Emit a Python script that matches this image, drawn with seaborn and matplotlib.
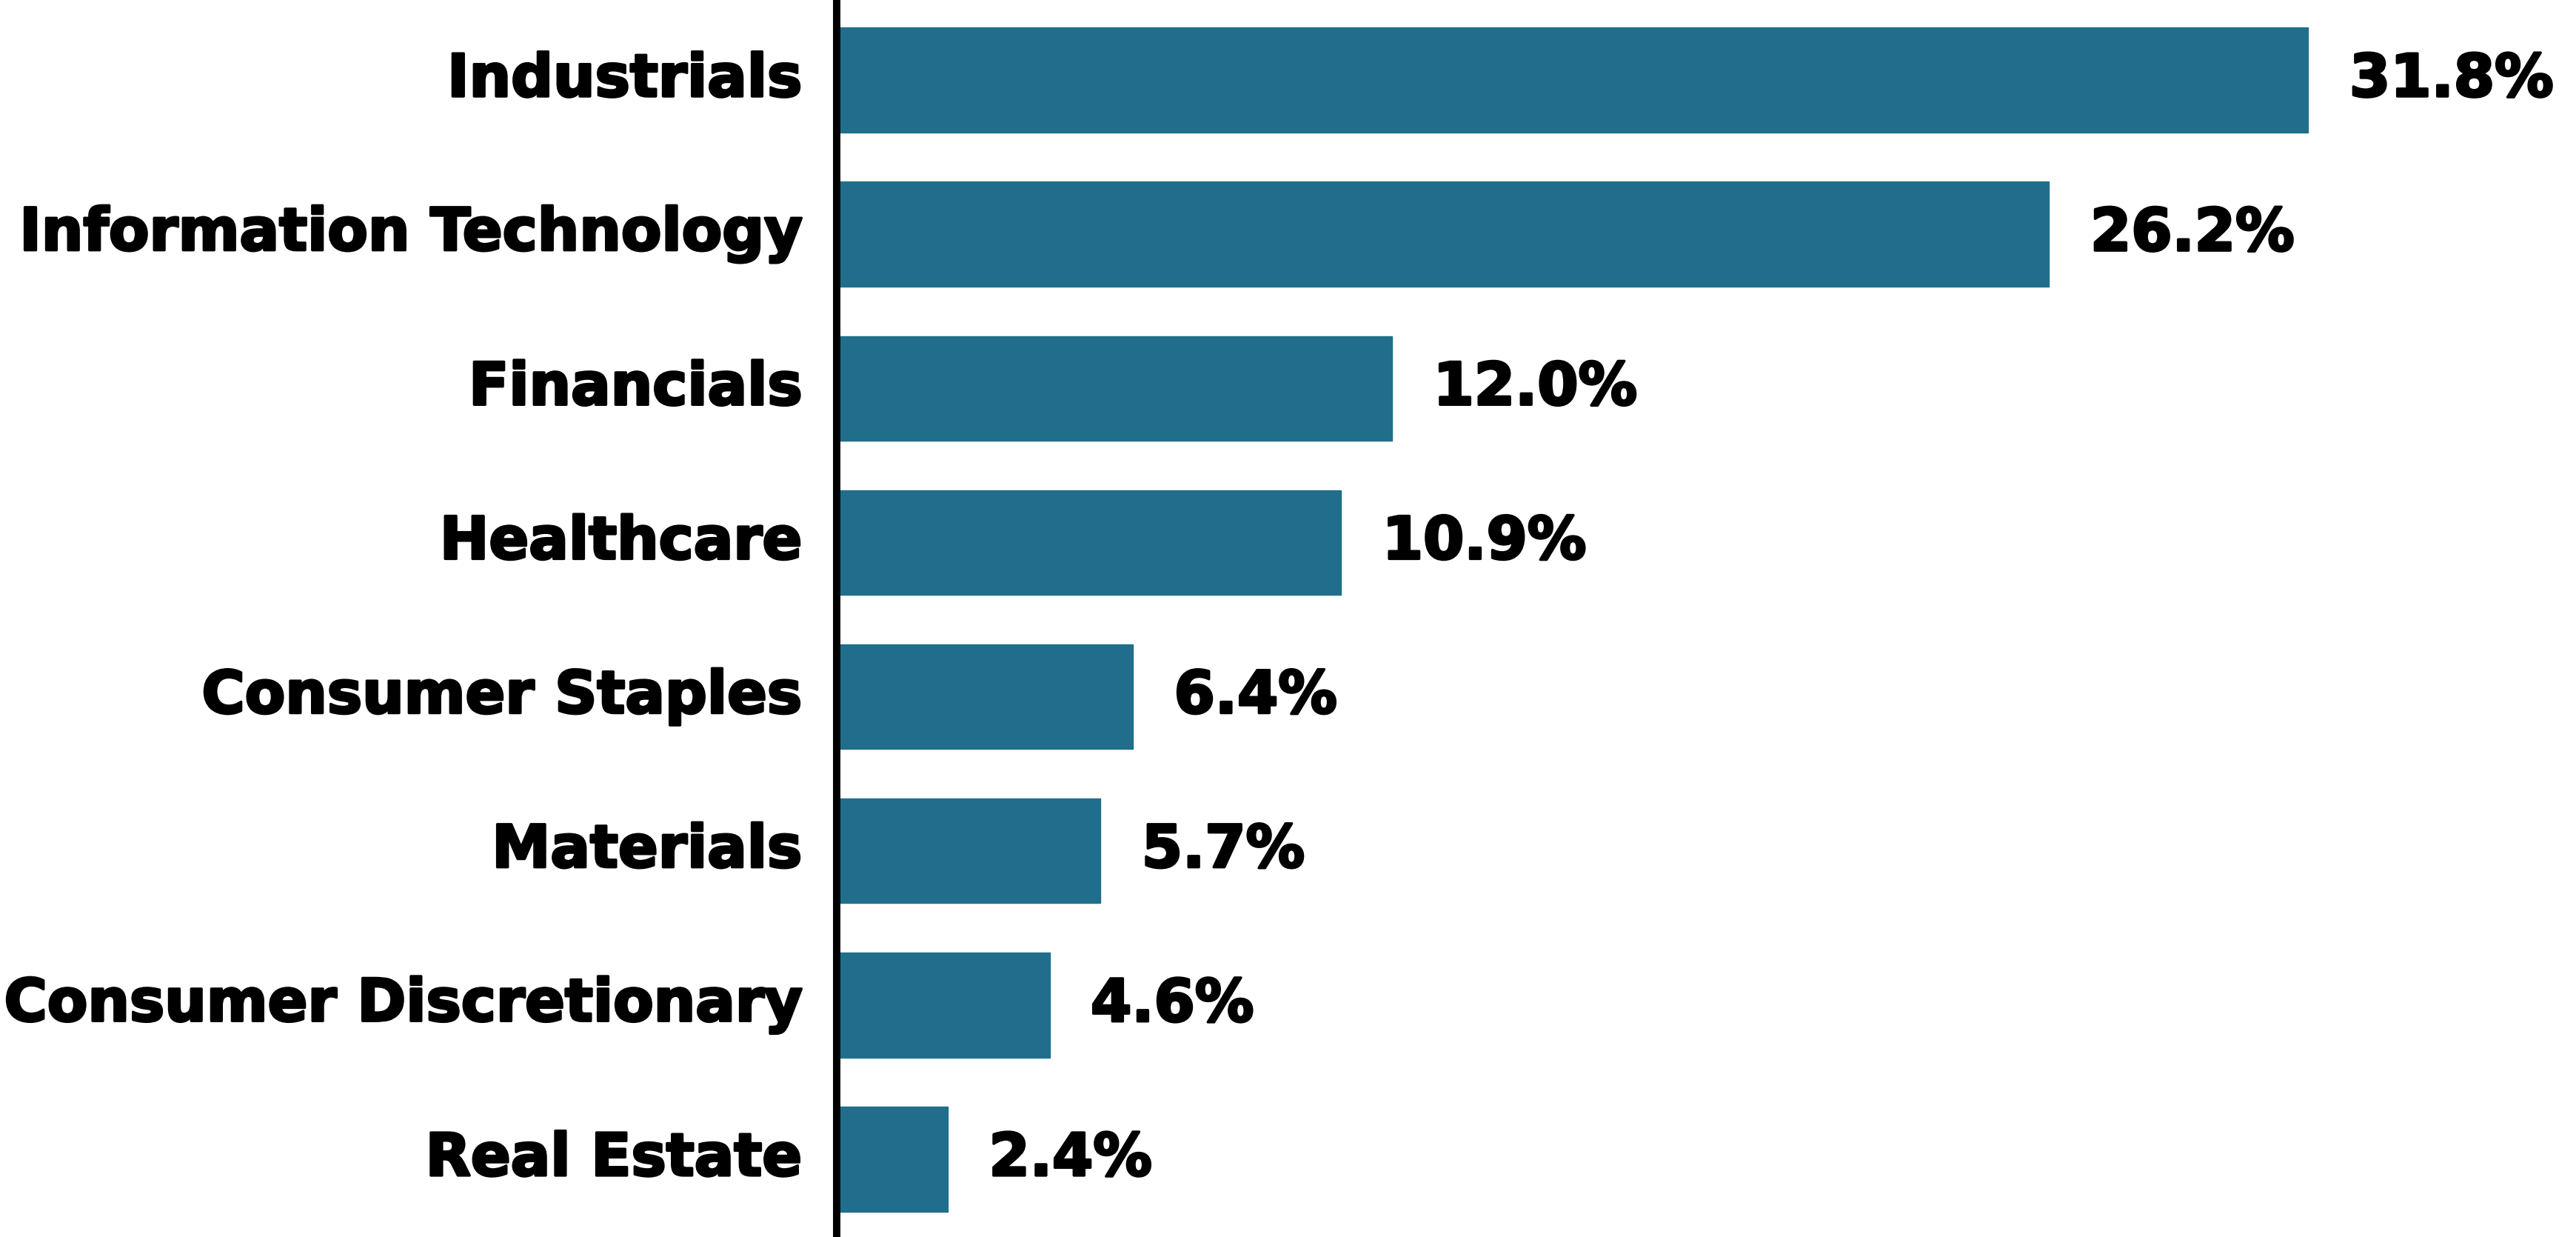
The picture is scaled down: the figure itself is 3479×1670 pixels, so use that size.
import matplotlib
matplotlib.use("Agg")
import matplotlib.pyplot as plt
import matplotlib.patheffects as pe
import seaborn as sns
import pandas as pd

categories = ["Industrials", "Information Technology", "Financials", "Healthcare",
              "Consumer Staples", "Materials", "Consumer Discretionary", "Real Estate"]
values = [31.8, 26.2, 12.0, 10.9, 6.4, 5.7, 4.6, 2.4]
value_labels = ["31.8%", "26.2%", "12.0%", "10.9%", "6.4%", "5.7%", "4.6%", "2.4%"]

sns.set_theme(style="white")
plt.rcParams['font.family'] = ['DejaVu Sans']

W, H, DPI = 3480, 1670, 200
fig = plt.figure(figsize=(W / DPI, H / DPI), dpi=DPI)
ax_left, ax_top, ax_bottom = 1130, 4, 1669
ax = fig.add_axes([ax_left / W, 1 - ax_bottom / H, (W - ax_left) / W, (ax_bottom - ax_top) / H])

df = pd.DataFrame({"sector": categories, "value": values})
color = "#206E8C"
sns.barplot(data=df, x="value", y="sector", orient="h", color=color, saturation=1,
            width=0.68, edgecolor=color, linewidth=0.5, ax=ax)

px_per_unit = 62.5
ax.set_xlim(0, (W - ax_left) / px_per_unit)
ax.set_ylim(7.5, -0.5)

thick = [pe.withStroke(linewidth=1.2, foreground="black")]
FS = 28.6

for i, (v, lab) in enumerate(zip(values, value_labels)):
    ax.annotate(lab, xy=(v, i), xytext=(20, 0), textcoords="offset points",
                va="center", ha="left", fontsize=FS, fontweight="bold", color="black",
                path_effects=thick)

for s in ["top", "right", "bottom"]:
    ax.spines[s].set_visible(False)
ax.spines["left"].set_color("black")
ax.spines["left"].set_linewidth(3.6)
ax.set_xticks([])
ax.set_xlabel("")
ax.set_ylabel("")
ax.tick_params(axis="y", length=0, pad=17)
for t in ax.get_yticklabels():
    t.set_fontsize(FS)
    t.set_fontweight("bold")
    t.set_color("black")
    t.set_va("center")
    t.set_path_effects(thick)

fig.savefig("out.png", dpi=DPI, facecolor="white")
